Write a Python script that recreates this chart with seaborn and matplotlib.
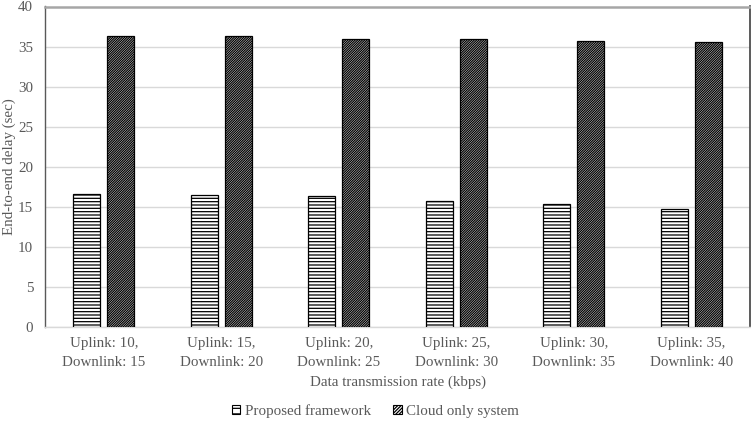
import matplotlib
matplotlib.use("Agg")
import matplotlib.pyplot as plt
import seaborn as sns
import pandas as pd
from matplotlib.patches import Patch

categories = ["Uplink: 10,\nDownlink: 15", "Uplink: 15,\nDownlink: 20",
              "Uplink: 20,\nDownlink: 25", "Uplink: 25,\nDownlink: 30",
              "Uplink: 30,\nDownlink: 35", "Uplink: 35,\nDownlink: 40"]
series_names = ["Proposed framework", "Cloud only system"]
proposed = [16.65, 16.5, 16.35, 15.75, 15.4, 14.7]
cloud = [36.3, 36.3, 36.0, 35.9, 35.7, 35.6]
yticks = [0, 5, 10, 15, 20, 25, 30, 35, 40]

df = pd.DataFrame({
    "cat": categories * 2,
    "series": [series_names[0]] * len(categories) + [series_names[1]] * len(categories),
    "val": proposed + cloud,
})

sns.set_theme(style="white")
plt.rcParams["font.family"] = ["Liberation Serif", "DejaVu Serif"]
plt.rcParams["hatch.linewidth"] = 0.9
plt.rcParams["hatch.color"] = "black"

FS = 10.8
TXT = "#595959"

fig = plt.figure(figsize=(7.51, 4.21), dpi=100)
ax = fig.add_axes([45 / 751, 1 - 327 / 421, 705 / 751, 320.5 / 421])

sns.barplot(data=df, x="cat", y="val", hue="series", order=categories,
            hue_order=series_names, width=0.58, gap=0.207, ax=ax,
            palette=["white", "white"], legend=False, zorder=3)

hatches = ["-----", "//////////////"]
for cont, h in zip(ax.containers, hatches):
    for p in cont:
        p.set_facecolor("white")
        p.set_edgecolor("black")
        p.set_linewidth(0.9)
        p.set_hatch(h)

ax.set_ylim(0, 40)
ax.set_yticks(yticks)
ax.set_xlim(-0.5, len(categories) - 0.5)
ax.yaxis.grid(True, color="#d9d9d9", linewidth=1, zorder=0)
ax.set_axisbelow(True)
ax.tick_params(axis="both", length=0, labelsize=FS, labelcolor=TXT)
ax.tick_params(axis="y", pad=8.5)
ax.tick_params(axis="x", pad=7)
ax.set_xlabel("Data transmission rate (kbps)", fontsize=FS, color=TXT, labelpad=5)
ax.set_ylabel("End-to-end delay (sec)", fontsize=FS, color=TXT)
ax.yaxis.set_label_coords((16 - 45) / 705, 0.5)
for lab in ax.get_xticklabels():
    lab.set_linespacing(1.6)

ax.spines["left"].set_color("#595959")
ax.spines["left"].set_linewidth(1.0)
ax.spines["bottom"].set_color("#d9d9d9")
ax.spines["bottom"].set_linewidth(1.0)
ax.spines["top"].set_color("#a6a6a6")
ax.spines["top"].set_linewidth(1.8)
ax.spines["right"].set_color("#404040")
ax.spines["right"].set_linewidth(1.2)

handles = [Patch(facecolor="white", edgecolor="black", hatch=h, linewidth=0.8)
           for h in ["---", "//////////"]]
fig.legend(handles, series_names, loc="center", bbox_to_anchor=(0.5, 1 - 411 / 421),
           ncol=2, frameon=False, fontsize=FS, handlelength=0.55, handleheight=0.55,
           handletextpad=0.3, columnspacing=1.5, labelcolor=TXT)

fig.savefig("out.png", dpi=100)
